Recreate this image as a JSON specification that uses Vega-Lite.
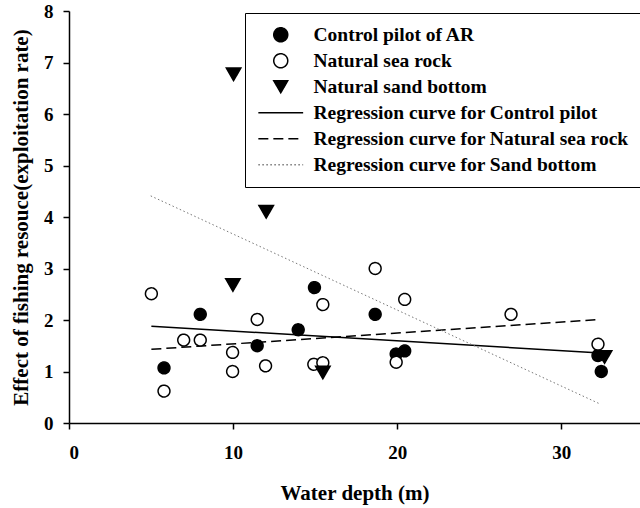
{
  "$schema": "https://vega.github.io/schema/vega-lite/v6.json",
  "autosize": {"type": "none"},
  "padding": {"left": 69, "top": 11, "right": 0, "bottom": 85},
  "width": 571,
  "height": 412,
  "background": "white",
  "config": {
    "view": {"stroke": null},
    "axis": {
      "grid": false,
      "labelFont": "Liberation Serif",
      "labelFontWeight": "bold",
      "labelFontSize": 19,
      "labelColor": "black",
      "titleFont": "Liberation Serif",
      "titleFontWeight": "bold",
      "titleFontSize": 21,
      "titleColor": "black",
      "domainColor": "black",
      "domainWidth": 1.5,
      "tickColor": "black",
      "tickWidth": 1.5,
      "tickSize": 6
    },
    "legend": {
      "labelFont": "Liberation Serif",
      "labelFontWeight": "bold",
      "labelFontSize": 19.5,
      "labelColor": "black",
      "labelLimit": 1000
    }
  },
  "datasets": {
    "points": [
      {"depth": 5.79, "effect": 1.07, "series": "Control pilot of AR"},
      {"depth": 8.0, "effect": 2.11, "series": "Control pilot of AR"},
      {"depth": 11.47, "effect": 1.5, "series": "Control pilot of AR"},
      {"depth": 13.97, "effect": 1.81, "series": "Control pilot of AR"},
      {"depth": 14.96, "effect": 2.63, "series": "Control pilot of AR"},
      {"depth": 18.66, "effect": 2.11, "series": "Control pilot of AR"},
      {"depth": 19.94, "effect": 1.34, "series": "Control pilot of AR"},
      {"depth": 20.46, "effect": 1.4, "series": "Control pilot of AR"},
      {"depth": 32.24, "effect": 1.31, "series": "Control pilot of AR"},
      {"depth": 32.44, "effect": 1.0, "series": "Control pilot of AR"},
      {"depth": 5.02, "effect": 2.51, "series": "Natural sea rock"},
      {"depth": 5.79, "effect": 0.62, "series": "Natural sea rock"},
      {"depth": 6.99, "effect": 1.61, "series": "Natural sea rock"},
      {"depth": 8.0, "effect": 1.61, "series": "Natural sea rock"},
      {"depth": 9.97, "effect": 1.37, "series": "Natural sea rock"},
      {"depth": 9.97, "effect": 1.0, "series": "Natural sea rock"},
      {"depth": 11.47, "effect": 2.01, "series": "Natural sea rock"},
      {"depth": 11.98, "effect": 1.11, "series": "Natural sea rock"},
      {"depth": 14.92, "effect": 1.14, "series": "Natural sea rock"},
      {"depth": 15.47, "effect": 2.3, "series": "Natural sea rock"},
      {"depth": 15.47, "effect": 1.17, "series": "Natural sea rock"},
      {"depth": 18.66, "effect": 3.0, "series": "Natural sea rock"},
      {"depth": 20.46, "effect": 2.4, "series": "Natural sea rock"},
      {"depth": 19.94, "effect": 1.18, "series": "Natural sea rock"},
      {"depth": 26.94, "effect": 2.11, "series": "Natural sea rock"},
      {"depth": 32.24, "effect": 1.53, "series": "Natural sea rock"},
      {"depth": 10.03, "effect": 6.77, "series": "Natural sand bottom"},
      {"depth": 12.02, "effect": 4.1, "series": "Natural sand bottom"},
      {"depth": 9.99, "effect": 2.68, "series": "Natural sand bottom"},
      {"depth": 15.47, "effect": 0.98, "series": "Natural sand bottom"},
      {"depth": 32.64, "effect": 1.28, "series": "Natural sand bottom"}
    ],
    "curves": [
      {"depth": 5.02, "effect": 1.88, "curve": "Control"},
      {"depth": 32.4, "effect": 1.36, "curve": "Control"},
      {"depth": 5.02, "effect": 1.43, "curve": "Rock"},
      {"depth": 32.36, "effect": 2.01, "curve": "Rock"},
      {"depth": 4.98, "effect": 4.41, "curve": "Sand"},
      {"depth": 32.36, "effect": 0.37, "curve": "Sand"}
    ]
  },
  "layer": [
    {
      "mark": {"type": "rule", "color": "black", "strokeWidth": 1.5},
      "encoding": {"y": {"datum": 8}}
    },
    {
      "data": {"name": "curves"},
      "transform": [{"filter": "datum.curve == 'Control'"}],
      "mark": {"type": "line", "color": "black", "strokeWidth": 1.5},
      "encoding": {
        "x": {"field": "depth", "type": "quantitative"},
        "y": {"field": "effect", "type": "quantitative"}
      }
    },
    {
      "data": {"name": "curves"},
      "transform": [{"filter": "datum.curve == 'Rock'"}],
      "mark": {"type": "line", "color": "black", "strokeWidth": 1.5, "strokeDash": [10, 5]},
      "encoding": {
        "x": {"field": "depth", "type": "quantitative"},
        "y": {"field": "effect", "type": "quantitative"}
      }
    },
    {
      "data": {"name": "curves"},
      "transform": [{"filter": "datum.curve == 'Sand'"}],
      "mark": {"type": "line", "color": "#777777", "strokeWidth": 1, "strokeDash": [1.5, 2.5]},
      "encoding": {
        "x": {"field": "depth", "type": "quantitative"},
        "y": {"field": "effect", "type": "quantitative"}
      }
    },
    {
      "data": {"name": "points"},
      "mark": {"type": "point", "strokeWidth": 1.5, "opacity": 1},
      "encoding": {
        "x": {
          "field": "depth",
          "type": "quantitative",
          "scale": {"domain": [0, 34.8], "nice": false, "zero": false},
          "axis": {"values": [0, 10, 20, 30], "title": "Water depth (m)", "labelPadding": 14, "titlePadding": 20}
        },
        "y": {
          "field": "effect",
          "type": "quantitative",
          "scale": {"domain": [0, 8], "nice": false},
          "axis": {"values": [0, 1, 2, 3, 4, 5, 6, 7, 8], "title": "Effect of fishing resouce(exploitation rate)", "labelPadding": 10, "titlePadding": 12}
        },
        "shape": {
          "field": "series",
          "type": "nominal",
          "scale": {
            "domain": ["Control pilot of AR", "Natural sea rock", "Natural sand bottom", "Regression curve for Control pilot", "Regression curve for Natural sea rock", "Regression curve for Sand bottom"],
            "range": ["circle", "circle", "triangle-down", "M-3.2,0H3.2", "M-3.2,0H3.2", "M-3.2,0H3.2"]
          },
          "legend": {
            "title": null,
            "orient": "none",
            "legendX": 176,
            "legendY": 2,
            "padding": 12,
            "strokeColor": "black",
            "fillColor": "white",
            "rowPadding": 5,
            "symbolSize": 196,
            "symbolOffset": 14,
            "labelOffset": 23
          }
        },
        "fill": {
          "field": "series",
          "type": "nominal",
          "scale": {
            "domain": ["Control pilot of AR", "Natural sea rock", "Natural sand bottom", "Regression curve for Control pilot", "Regression curve for Natural sea rock", "Regression curve for Sand bottom"],
            "range": ["black", "white", "black", "transparent", "transparent", "transparent"]
          }
        },
        "stroke": {
          "field": "series",
          "type": "nominal",
          "scale": {
            "domain": ["Control pilot of AR", "Natural sea rock", "Natural sand bottom", "Regression curve for Control pilot", "Regression curve for Natural sea rock", "Regression curve for Sand bottom"],
            "range": ["black", "black", "black", "black", "black", "#777777"]
          }
        },
        "strokeDash": {
          "field": "series",
          "type": "nominal",
          "scale": {
            "domain": ["Control pilot of AR", "Natural sea rock", "Natural sand bottom", "Regression curve for Control pilot", "Regression curve for Natural sea rock", "Regression curve for Sand bottom"],
            "range": [[1, 0], [1, 0], [1, 0], [1, 0], [10, 5], [1.5, 2.5]]
          }
        },
        "size": {"condition": {"test": "datum.series == 'Natural sand bottom'", "value": 210}, "value": 140}
      }
    }
  ]
}
